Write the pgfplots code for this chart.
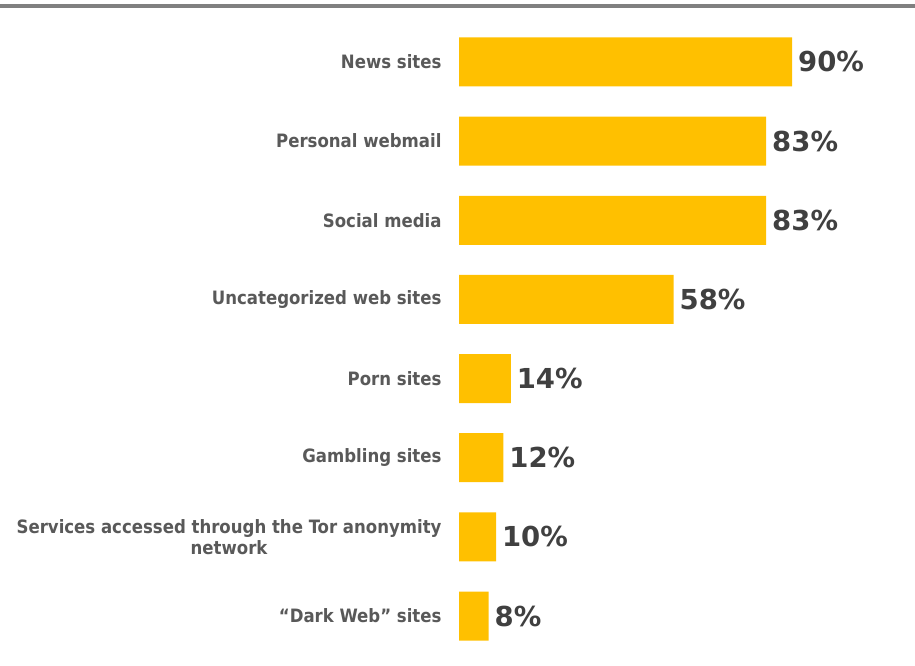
\documentclass[border=0pt]{standalone}
\usepackage{pgfplots}
\pgfplotsset{compat=1.18}
\usepackage{fontspec}
\setmainfont{DejaVu Sans}
\newfontfamily\condbold{DejaVu Sans Condensed}[BoldFont=* Bold]
\definecolor{bargold}{HTML}{FFC000}
\definecolor{labgray}{HTML}{595959}
\definecolor{valgray}{HTML}{404040}
\definecolor{linegray}{HTML}{808080}
\begin{document}
\begin{tikzpicture}[x=1pt,y=1pt]
\useasboundingbox (0,0) rectangle (915,666);
\fill[linegray] (0,658) rectangle (915,662);
\begin{axis}[
  at={(459pt,10.4pt)}, anchor=south west,
  scale only axis,
  width=456pt, height=633.2pt,
  xbar, bar width=49pt,
  xmin=0, xmax=123.2,
  ymin=-0.5, ymax=7.5,
  axis line style={draw=none},
  xtick=\empty,
  ytick={0,1,2,3,4,5,6,7},
  yticklabels={{“Dark Web” sites},{Services accessed through the Tor anonymity\\network},{Gambling sites},{Porn sites},{Uncategorized web sites},{Social media},{Personal webmail},{News sites}},
  major tick length=0pt,
  yticklabel style={font=\condbold\bfseries\fontsize{18.4}{21}\selectfont, text=labgray, align=center, xshift=-14pt},
  nodes near coords={\pgfmathprintnumber[assume math mode=true]{\pgfplotspointmeta}\%},
  nodes near coords style={font=\bfseries\fontsize{27.5}{30}\selectfont, text=valgray, anchor=west, xshift=2.5pt},
  /pgf/number format/assume math mode=true,
  point meta=x,
  clip=false,
]
\addplot[fill=bargold, draw=none] coordinates {
(8,0) (10,1) (12,2) (14,3) (58,4) (83,5) (83,6) (90,7)
};
\end{axis}
\end{tikzpicture}
\end{document}
